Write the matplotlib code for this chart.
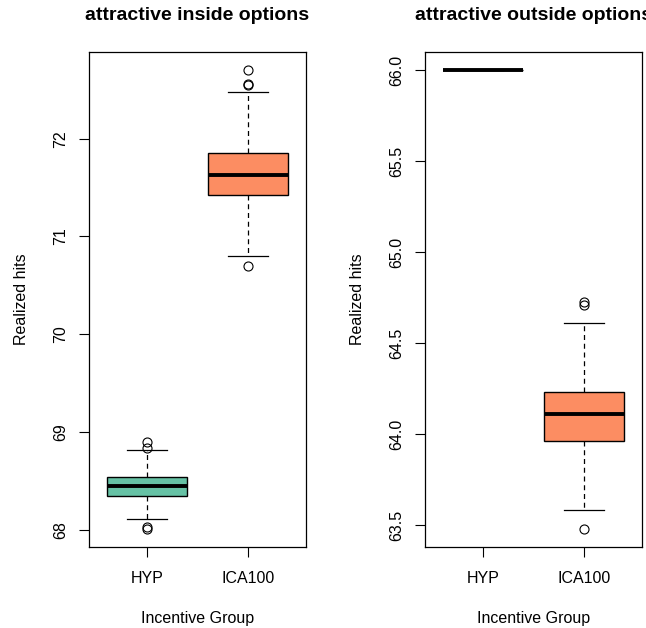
import numpy as np
import matplotlib.pyplot as plt

plt.rcParams['font.family'] = ['Liberation Sans', 'DejaVu Sans']

groups = ['HYP', 'ICA100']
colors = ['#66C2A5', '#FC8D62']

# attractive inside options: q1, median, q3, lower whisker, upper whisker, outliers
inside_q1 = [68.345, 71.42]
inside_med = [68.447, 71.63]
inside_q3 = [68.54, 71.85]
inside_lo = [68.106, 70.80]
inside_hi = [68.816, 72.48]
inside_out = [[68.90, 68.84, 68.03, 68.01], [72.70, 72.556, 72.55, 70.70]]

# attractive outside options
outside_q1 = [66.0, 63.96]
outside_med = [66.0, 64.11]
outside_q3 = [66.0, 64.23]
outside_lo = [66.0, 63.58]
outside_hi = [66.0, 64.61]
outside_out = [[], [64.727, 64.71, 63.48]]


def make_stats(q1, med, q3, lo, hi, out):
    stats = []
    for i in range(len(q1)):
        stats.append({'q1': q1[i], 'med': med[i], 'q3': q3[i],
                      'whislo': lo[i], 'whishi': hi[i], 'fliers': out[i]})
    return stats


def draw_panel(ax, stats, title, fmt):
    bp = ax.bxp(stats, positions=[1, 2], widths=0.8, patch_artist=True,
                showfliers=True, capwidths=0.4,
                boxprops=dict(edgecolor='black', linewidth=1.0),
                medianprops=dict(color='black', linewidth=2.8, solid_capstyle='butt'),
                whiskerprops=dict(color='black', linewidth=0.9, linestyle=(0, (4, 3))),
                capprops=dict(color='black', linewidth=0.9),
                flierprops=dict(marker='o', markersize=6.5, markerfacecolor='none',
                                markeredgecolor='black', markeredgewidth=0.8))
    for patch, c in zip(bp['boxes'], colors):
        patch.set_facecolor(c)

    vals = []
    for s in stats:
        vals += [s['whislo'], s['whishi']] + list(s['fliers'])
    lo, hi = min(vals), max(vals)
    pad = 0.04 * (hi - lo)
    ax.set_ylim(lo - pad, hi + pad)
    ax.set_xlim(0.42, 2.58)
    ax.set_xticks([1, 2])
    ax.set_xticklabels(groups)
    ax.yaxis.set_major_formatter(plt.FormatStrFormatter(fmt))
    for lab in ax.get_yticklabels():
        lab.set_rotation(90)
        lab.set_va('center')
    ax.tick_params(direction='out', length=7.2, width=0.8, labelsize=11.5, pad=8)
    ax.tick_params(axis='x', pad=10)
    for sp in ax.spines.values():
        sp.set_linewidth(0.9)
    ax.set_xlabel('Incentive Group', fontsize=11.5, labelpad=18)
    ax.set_ylabel('Realized hits', fontsize=11.5, labelpad=17)
    ax.set_title(title, fontsize=14, fontweight='bold', pad=23)


fig = plt.figure(figsize=(6.46, 6.28), dpi=100)
ax1 = fig.add_axes([89 / 646, 81 / 628, 217 / 646, 495 / 628])
ax2 = fig.add_axes([425 / 646, 81 / 628, 217 / 646, 495 / 628])

draw_panel(ax1, make_stats(inside_q1, inside_med, inside_q3, inside_lo, inside_hi, inside_out),
           'attractive inside options', '%d')
draw_panel(ax2, make_stats(outside_q1, outside_med, outside_q3, outside_lo, outside_hi, outside_out),
           'attractive outside options', '%.1f')

fig.savefig('out.png', dpi=100)
